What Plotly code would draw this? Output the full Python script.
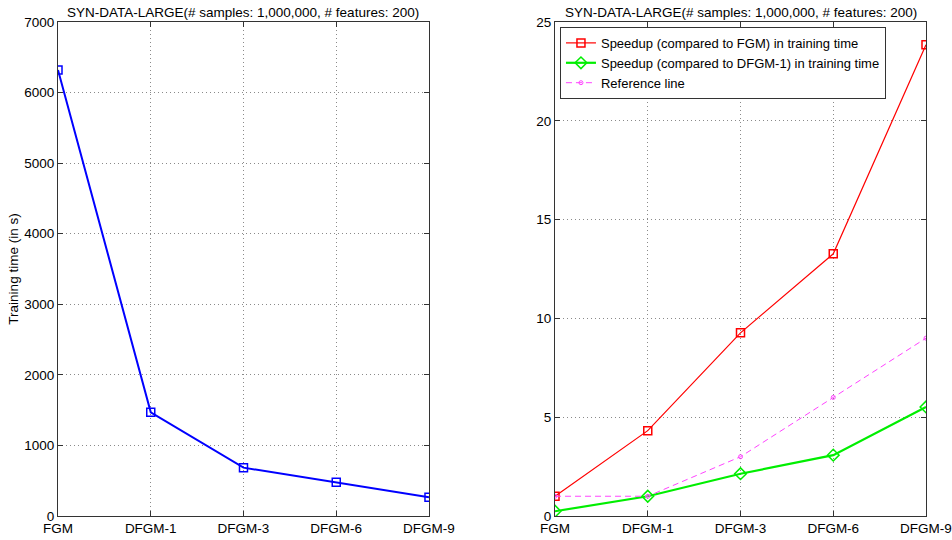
import plotly.graph_objects as go

# Methods compared on the synthetic dataset
methods = ["FGM", "DFGM-1", "DFGM-3", "DFGM-6", "DFGM-9"]

# Training time in seconds
training_time = [6320, 1470, 685, 477, 265]

# Speedups in training time
speedup_vs_fgm = [1.0, 4.32, 9.27, 13.27, 23.85]
speedup_vs_dfgm1 = [0.24, 1.0, 2.14, 3.08, 5.52]
reference_line = [1, 1, 3, 6, 9]

title_text = "SYN-DATA-LARGE(# samples: 1,000,000, # features: 200)"
font_family = "Liberation Sans, Arial, sans-serif"
fsize = 13.5

fig = go.Figure()

fig.add_trace(go.Scatter(
    x=methods, y=training_time, mode="lines+markers",
    line=dict(color="#0000ff", width=2),
    marker=dict(symbol="square-open", size=8, color="#0000ff", line=dict(width=1.5)),
    showlegend=False, xaxis="x", yaxis="y",
))

fig.add_trace(go.Scatter(
    x=methods, y=speedup_vs_fgm, mode="lines+markers",
    name="Speedup (compared to FGM) in training time",
    line=dict(color="#ff0000", width=1.2),
    marker=dict(symbol="square-open", size=8, color="#ff0000", line=dict(width=1.5)),
    xaxis="x2", yaxis="y2",
))
fig.add_trace(go.Scatter(
    x=methods, y=speedup_vs_dfgm1, mode="lines+markers",
    name="Speedup (compared to DFGM-1) in training time",
    line=dict(color="#00ee00", width=2.2),
    marker=dict(symbol="diamond-open", size=9, color="#00ee00", line=dict(width=1.5)),
    xaxis="x2", yaxis="y2",
))
fig.add_trace(go.Scatter(
    x=methods, y=reference_line, mode="lines+markers",
    name="Reference line",
    line=dict(color="#ff44ff", width=1, dash="6px,4px"),
    marker=dict(symbol="circle-open", size=4, color="#ff44ff", line=dict(width=1)),
    xaxis="x2", yaxis="y2",
))

axis_common = dict(
    showline=True, mirror="ticks", linecolor="#333333", linewidth=1,
    ticks="inside", ticklen=5, tickcolor="#333333",
    showgrid=True, gridcolor="#8a8a8a", griddash="1px,3px", gridwidth=1,
    zeroline=False, automargin=False,
    tickfont=dict(family=font_family, size=fsize, color="#000000"),
)

fig.update_layout(
    width=952, height=540,
    margin=dict(l=58, r=26, t=22, b=24),
    plot_bgcolor="#ffffff", paper_bgcolor="#ffffff",
    font=dict(family=font_family, size=fsize, color="#000000"),
    xaxis=dict(domain=[0, 0.4274], range=[0, 4], type="category", **axis_common),
    yaxis=dict(range=[0, 7000], dtick=1000, tickformat="d",
               title=dict(text="Training time (in s)", standoff=2,
                          font=dict(family=font_family, size=fsize)),
               **axis_common),
    xaxis2=dict(domain=[0.5726, 1], range=[0, 4], type="category", anchor="y2", **axis_common),
    yaxis2=dict(range=[0, 25], dtick=5, anchor="x2", **axis_common),
    legend=dict(
        x=0.5783, y=0.99, xanchor="left", yanchor="top",
        bgcolor="#ffffff", bordercolor="#333333", borderwidth=1,
        font=dict(family=font_family, size=13, color="#000000"),
        tracegroupgap=0, itemwidth=30,
    ),
    annotations=[
        dict(text=title_text, x=0.2137, y=1, xref="paper", yref="paper",
             xanchor="center", yanchor="bottom", yshift=0, showarrow=False,
             font=dict(family=font_family, size=fsize)),
        dict(text=title_text, x=0.7863, y=1, xref="paper", yref="paper",
             xanchor="center", yanchor="bottom", yshift=0, showarrow=False,
             font=dict(family=font_family, size=fsize)),
    ],
)

fig.write_html("out.html")
